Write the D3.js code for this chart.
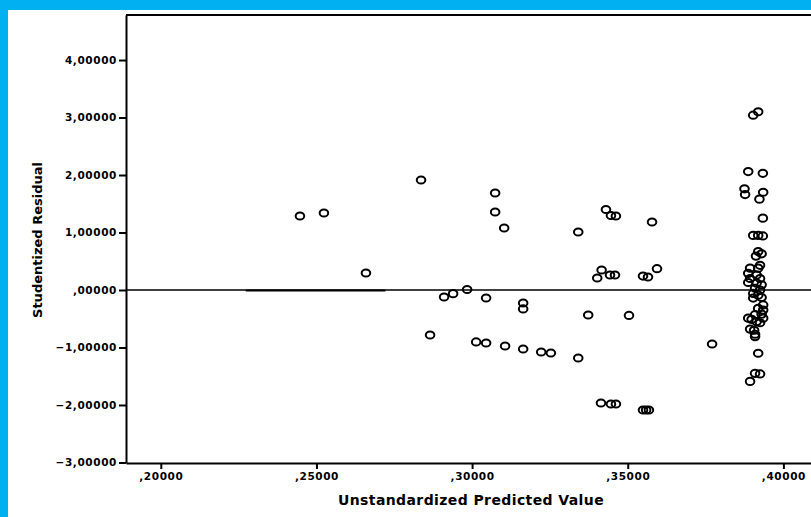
<!DOCTYPE html>
<html>
<head>
<meta charset="utf-8">
<script src="https://cdn.jsdelivr.net/npm/d3@7"></script>
<style>
  html, body { margin: 0; padding: 0; background: #fff; overflow: hidden; }
  svg { display: block; }
  .tick text { font-family: "DejaVu Sans", Verdana, sans-serif; font-weight: bold; }
</style>
</head>
<body>
<div id="chart"></div>
<script>
// predicted values (x) and studentized residuals (y)
var predicted = [
  0.2447, 0.2524, 0.2659, 0.2836, 0.2865, 0.2910, 0.2939, 0.2984, 0.3045, 0.3074,
  0.3074, 0.3103, 0.3013, 0.3045, 0.3106, 0.3164, 0.3164, 0.3164, 0.3222, 0.3253,
  0.3341, 0.3341, 0.3373, 0.3402, 0.3416, 0.3443, 0.3459, 0.3430, 0.3446, 0.3462,
  0.3578, 0.3594, 0.3549, 0.3565, 0.3504, 0.3414, 0.3446, 0.3462, 0.3549, 0.3559,
  0.3568, 0.3771,
  // cluster at the right
  0.3903, 0.3919, 0.3887, 0.3934, 0.3875, 0.3877, 0.3935, 0.3923, 0.3934, 0.3903,
  0.3919, 0.3934, 0.3919, 0.3930, 0.3912, 0.3925, 0.3893, 0.3919, 0.3887, 0.3914,
  0.3893, 0.3925, 0.3887, 0.3914, 0.3930, 0.3909, 0.3925, 0.3903, 0.3919, 0.3903,
  0.3930, 0.3935, 0.3919, 0.3935, 0.3909, 0.3930, 0.3935, 0.3887, 0.3898, 0.3914,
  0.3925, 0.3893, 0.3906, 0.3909, 0.3909, 0.3919, 0.3909, 0.3925, 0.3893
];
var residual = [
  1.287, 1.339, 0.296, 1.913, -0.783, -0.122, -0.064, 0.009, -0.139, 1.687,
  1.357, 1.078, -0.904, -0.922, -0.974, -0.226, -0.330, -1.026, -1.078, -1.096,
  1.009, -1.183, -0.435, 0.209, 0.348, 0.261, 0.261, 1.400, 1.296, 1.287,
  1.183, 0.370, 0.243, 0.226, -0.443, -1.965, -1.983, -1.983, -2.087, -2.087,
  -2.087, -0.939,
  3.04, 3.10, 2.06, 2.03, 1.76, 1.66, 1.70, 1.58, 1.25, 0.95,
  0.95, 0.94, 0.67, 0.63, 0.59, 0.43, 0.38, 0.38, 0.29, 0.26,
  0.20, 0.20, 0.13, 0.12, 0.09, 0.03, 0.00, -0.06, -0.09, -0.14,
  -0.13, -0.26, -0.32, -0.35, -0.43, -0.42, -0.49, -0.49, -0.51, -0.55,
  -0.57, -0.68, -0.70, -0.77, -0.81, -1.10, -1.45, -1.46, -1.59
];
var yTicks = [-3, -2, -1, 0, 1, 2, 3, 4];
var xTicks = [0.20, 0.25, 0.30, 0.35, 0.40];
var xTitle = "Unstandardized Predicted Value";
var yTitle = "Studentized Residual";

var W = 811, H = 517;
var mLeft = 126, mTop = 15, mRight = 830, mBottom = 463;

var svg = d3.select("#chart").append("svg")
  .attr("width", W).attr("height", H);

// blue frame round the picture
svg.append("rect").attr("x", 0).attr("y", 0).attr("width", W).attr("height", 10).attr("fill", "#00b0f0");
svg.append("rect").attr("x", 0).attr("y", 0).attr("width", 8).attr("height", H).attr("fill", "#00b0f0");

var x = d3.scaleLinear().domain([0.18882, 0.41497]).range([mLeft, mRight]);
var y = d3.scaleLinear().domain([-3.009, 4.783]).range([mBottom, mTop]);

// SPSS style numbers: comma decimal, no leading zero
function spss(v) {
  var s = d3.format(".5f")(v).replace(".", ",");
  return s.replace(/^(-?)0,/, "$1,");
}

// top border of the plot
svg.append("line").attr("x1", mLeft).attr("x2", mRight).attr("y1", mTop).attr("y2", mTop)
  .attr("stroke", "#000").attr("stroke-width", 2);

var yAxis = svg.append("g").attr("transform", "translate(" + mLeft + ",0)")
  .call(d3.axisLeft(y).tickValues(yTicks).tickFormat(spss).tickSizeInner(7).tickSizeOuter(0).tickPadding(2));
yAxis.selectAll("text").attr("font-size", "10.5px").attr("letter-spacing", "0.6px").attr("fill", "#000");

var xAxis = svg.append("g").attr("transform", "translate(0," + mBottom + ")")
  .call(d3.axisBottom(x).tickValues(xTicks).tickFormat(spss).tickSizeInner(6).tickSizeOuter(0).tickPadding(4));
xAxis.selectAll("text").attr("font-size", "10.5px").attr("letter-spacing", "0.6px").attr("fill", "#000");

[yAxis, xAxis].forEach(function (a) {
  a.select(".domain").attr("stroke", "#000").attr("stroke-width", 2);
  a.selectAll(".tick line").attr("stroke", "#000").attr("stroke-width", 2);
});

// reference line at zero
svg.append("line").attr("x1", mLeft).attr("x2", W).attr("y1", y(0)).attr("y2", y(0))
  .attr("stroke", "#000").attr("stroke-width", 1.3);
svg.append("line").attr("x1", x(0.2273)).attr("x2", x(0.2722)).attr("y1", y(0) + 0.6).attr("y2", y(0) + 0.6)
  .attr("stroke", "#000").attr("stroke-width", 2);

// points
svg.append("g").selectAll("ellipse")
  .data(predicted.map(function (p, i) { return [p, residual[i]]; }))
  .join("ellipse")
  .attr("cx", function (d) { return x(d[0]); })
  .attr("cy", function (d) { return y(d[1]); })
  .attr("rx", 4.3).attr("ry", 3.6)
  .attr("fill", "none")
  .attr("stroke", "#000")
  .attr("stroke-width", 2);

// titles
svg.append("text").text(xTitle)
  .attr("x", 471).attr("y", 505)
  .attr("text-anchor", "middle")
  .attr("font-family", "DejaVu Sans, Verdana, sans-serif")
  .attr("font-weight", "bold").attr("font-size", "14px")
  .attr("letter-spacing", "0.4px");

svg.append("text").text(yTitle)
  .attr("transform", "translate(42,240) rotate(-90)")
  .attr("text-anchor", "middle")
  .attr("font-family", "DejaVu Sans, Verdana, sans-serif")
  .attr("font-weight", "bold").attr("font-size", "13px");
</script>
</body>
</html>
